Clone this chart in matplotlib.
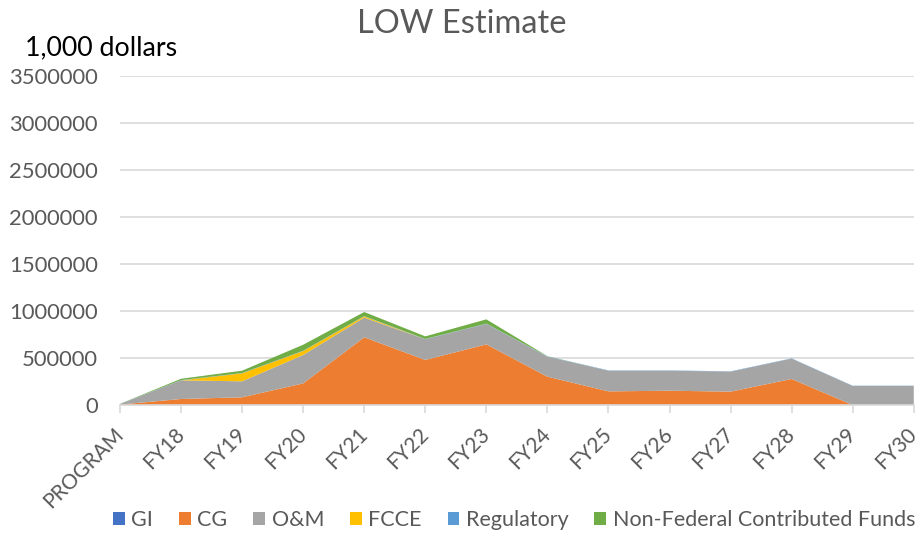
import numpy as np
import matplotlib.pyplot as plt
from matplotlib.patches import Patch

# fiscal years on the x axis
years = ['PROGRAM', 'FY18', 'FY19', 'FY20', 'FY21', 'FY22', 'FY23',
         'FY24', 'FY25', 'FY26', 'FY27', 'FY28', 'FY29', 'FY30']

# values in 1,000 dollars
gi = [0, 0, 0, 0, 0, 0, 0, 0, 0, 0, 0, 0, 0, 0]
cg = [5000, 64000, 82000, 230000, 720000, 479000, 645000,
      301000, 145000, 152000, 142000, 277000, 0, 0]
om = [5000, 198000, 170000, 302000, 209000, 220000, 217000,
      213000, 220000, 213000, 213000, 216000, 202000, 202000]
fcce = [0, 0, 85000, 42000, 14000, 0, 0, 0, 0, 0, 0, 0, 0, 0]
regulatory = [1000, 3000, 3000, 3000, 3000, 3000, 3000,
              3000, 3000, 3000, 3000, 3000, 3000, 3000]
nonfed = [1000, 14000, 25000, 64000, 43000, 28000, 46000,
          2000, 0, 0, 0, 0, 0, 0]

names = ['GI', 'CG', 'O&M', 'FCCE', 'Regulatory', 'Non-Federal Contributed Funds']
colors = ['#4472C4', '#ED7D31', '#A5A5A5', '#FFC000', '#5B9BD5', '#70AD47']
yticks = [0, 500000, 1000000, 1500000, 2000000, 2500000, 3000000, 3500000]

plt.rcParams['font.family'] = ['Lato', 'DejaVu Sans']

fig = plt.figure(figsize=(9.23, 5.36), dpi=100)
ax = fig.add_axes([0.130, 0.2444, 0.860, 0.614])

x = np.arange(len(years))
ax.stackplot(x, gi, cg, om, fcce, regulatory, nonfed, colors=colors,
             edgecolor='none', zorder=2)

ax.set_xlim(0, len(years) - 1)
ax.set_ylim(0, 3500000)
ax.set_yticks(yticks)
ax.set_yticklabels([str(v) for v in yticks])
ax.set_xticks(x)
ax.set_xticklabels(years, rotation=45, ha='right', va='center',
                   rotation_mode='anchor')

ax.grid(axis='y', color='#D9D9D9', linewidth=1.2, zorder=0)
for s in ['left', 'right', 'top']:
    ax.spines[s].set_visible(False)
ax.spines['bottom'].set_color('#D9D9D9')
ax.spines['bottom'].set_linewidth(1.2)
ax.spines['bottom'].set_zorder(3)
ax.tick_params(axis='y', length=0, labelsize=15.8, labelcolor='#595959', pad=16)
ax.tick_params(axis='x', length=6, width=1.2, color='#D9D9D9',
               labelsize=15, labelcolor='#595959', pad=13)

fig.text(0.5, 0.955, 'LOW Estimate', ha='center', va='center',
         fontsize=23.5, color='#595959')
fig.text(0.027, 0.910, '1,000 dollars', ha='left', va='center',
         fontsize=19.3, color='black')

handles = [Patch(facecolor=c, edgecolor='none') for c in colors]
fig.legend(handles, names, loc='center', bbox_to_anchor=(0.557, 0.03),
           ncol=6, frameon=False, fontsize=15.5, labelcolor='#595959',
           handlelength=0.55, handleheight=0.55, handletextpad=0.3,
           columnspacing=1.2)

fig.savefig('out.png', dpi=100)
